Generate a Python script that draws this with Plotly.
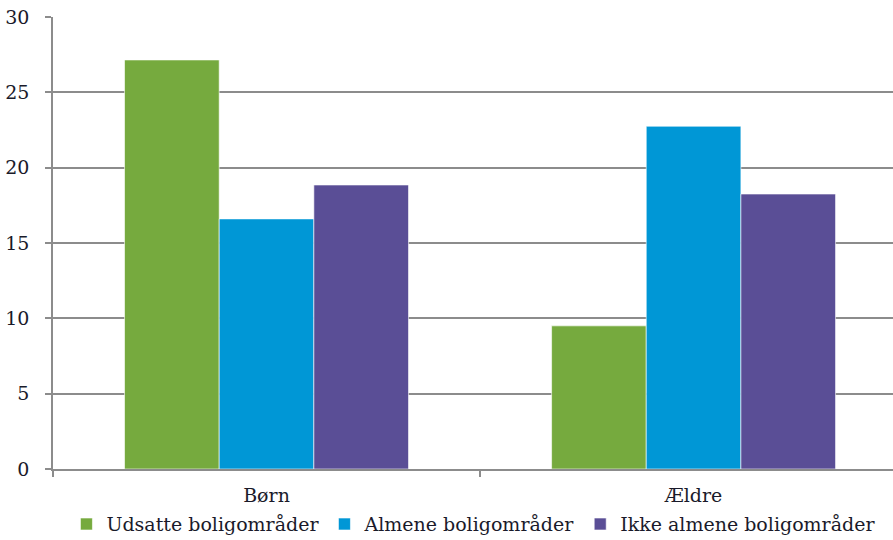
import plotly.graph_objects as go

# Andel i procent fordelt på aldersgruppe og boligområde
categories = ["Børn", "Ældre"]
series_names = ["Udsatte boligområder", "Almene boligområder", "Ikke almene boligområder"]
udsatte = [27.15, 9.5]
almene = [16.6, 22.75]
ikke_almene = [18.85, 18.25]
y_ticks = [0, 5, 10, 15, 20, 25, 30]

colors = ["#76AA3E", "#0097D6", "#5A4E96"]
font_family = "DejaVu Serif"

fig = go.Figure()
for name, vals, col in zip(series_names, [udsatte, almene, ikke_almene], colors):
    fig.add_trace(go.Bar(
        x=categories, y=vals, name=name,
        marker=dict(color=col, line=dict(color="rgba(255,255,255,0.6)", width=1)),
    ))

grid_col = "#8C8C8C"
fig.update_layout(
    width=893, height=540,
    margin=dict(l=53, r=0, t=17, b=71, autoexpand=False),
    paper_bgcolor="white", plot_bgcolor="white",
    barmode="group", bargap=0.335, bargroupgap=0,
    font=dict(family=font_family, size=19, color="#1a1a2a"),
    showlegend=True,
    legend=dict(
        orientation="h", x=0.016, xanchor="left", y=-0.08, yanchor="top",
        font=dict(size=19), itemwidth=30,
        tracegroupgap=0,
    ),
    xaxis=dict(
        type="category", range=[-0.5, 1.467],
        showline=True, linecolor=grid_col, linewidth=1.5,
        ticks="outside", tickson="boundaries", ticklen=6, tickcolor=grid_col, tickwidth=1.5,
        showgrid=False, ticklabelstandoff=8,
    ),
    yaxis=dict(
        range=[0, 30], tickvals=y_ticks,
        showline=True, linecolor=grid_col, linewidth=1.5,
        ticks="outside", ticklen=6, tickcolor=grid_col, tickwidth=1.5,
        showgrid=True, gridcolor=grid_col, gridwidth=1.5,
        zeroline=False, ticklabelstandoff=12,
    ),
)

fig.write_html("out.html")
